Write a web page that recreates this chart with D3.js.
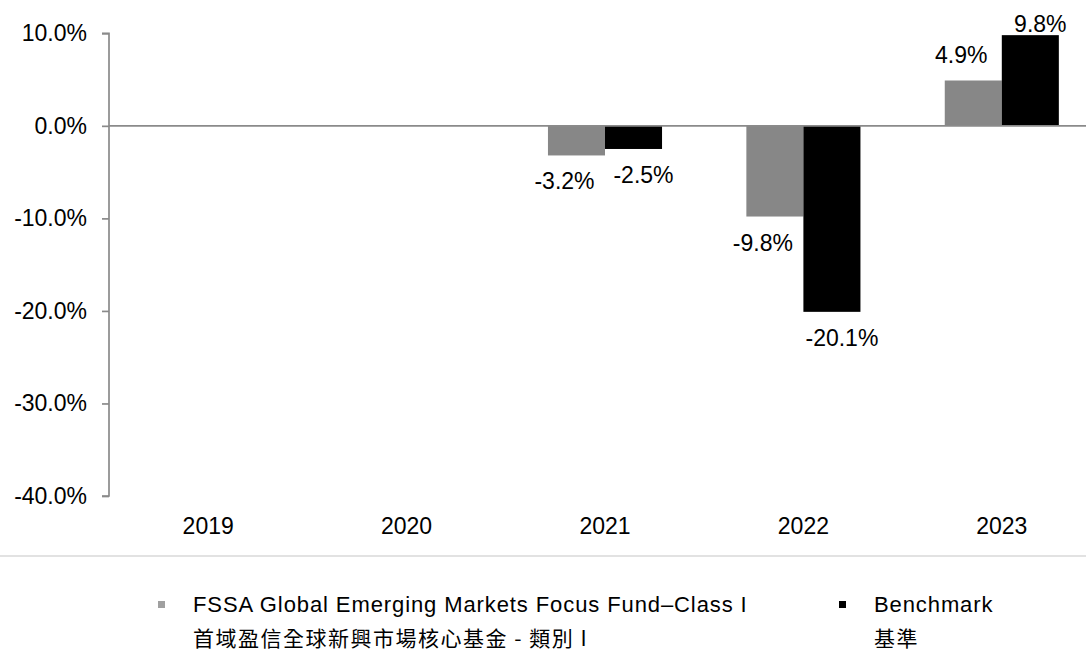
<!DOCTYPE html>
<html>
<head>
<meta charset="utf-8">
<script src="https://cdn.jsdelivr.net/npm/d3@7"></script>
<style>
  html, body { margin: 0; padding: 0; background: #fff; }
  svg { display: block; }
  text { font-family: "Liberation Sans", Arial, sans-serif; fill: #000; }
  .cjk { font-family: "Noto Sans CJK TC", "Noto Sans CJK SC", sans-serif; }
</style>
</head>
<body>
<svg id="chart" width="1086" height="651"></svg>
<script>
const years = ["2019", "2020", "2021", "2022", "2023"];
const fundValues = [null, null, -3.2, -9.8, 4.9];
const benchmarkValues = [null, null, -2.5, -20.1, 9.8];
const yTicks = [10, 0, -10, -20, -30, -40];
const seriesNames = ["fund", "benchmark"];
const legendEn = ["FSSA Global Emerging Markets Focus Fund\u2013Class I", "Benchmark"];
const legendZh = ["首域盈信全球新興市場核心基金 - 類別 I", "基準"];

const colors = { fund: "#878787", benchmark: "#000000" };
const legendColors = { fund: "#a0a0a0", benchmark: "#000000" };
const labelDx = { fund: -12, benchmark: 10 };

const svg = d3.select("#chart");
const W = 1086, H = 651;
const axisX = 109;

const x0 = d3.scaleBand().domain(years).range([axisX, 1101])
  .paddingInner(0.425).paddingOuter(0.2125);
const x1 = d3.scaleBand().domain(seriesNames).range([0, x0.bandwidth()]);
const y = d3.scaleLinear().domain([-40, 10]).range([496, 33.3]);

// y axis
const yAxis = d3.axisLeft(y).tickValues(yTicks).tickSize(7).tickPadding(15)
  .tickFormat(d => d.toFixed(1) + "%");
const gy = svg.append("g").attr("transform", `translate(${axisX},0)`).call(yAxis);
gy.select(".domain").attr("stroke", "#8a8a8a").attr("stroke-width", 1.7)
  .attr("d", `M-7,${y(10)}H0V${y(-40)}H-7`);
gy.selectAll(".tick line").attr("stroke", "#8a8a8a").attr("stroke-width", 1.7);
gy.selectAll(".tick text").attr("font-size", 23).attr("font-family", "Liberation Sans, Arial, sans-serif").attr("fill", "#000");

// data rows
const rows = years.map((yr, i) => ({
  year: yr,
  vals: [
    { key: "fund", v: fundValues[i] },
    { key: "benchmark", v: benchmarkValues[i] }
  ]
}));

const groups = svg.append("g").selectAll("g").data(rows).join("g")
  .attr("transform", d => `translate(${x0(d.year)},0)`);

groups.selectAll("rect").data(d => d.vals.filter(v => v.v !== null)).join("rect")
  .attr("x", d => x1(d.key))
  .attr("width", x1.bandwidth())
  .attr("y", d => y(Math.max(0, d.v)))
  .attr("height", d => Math.abs(y(d.v) - y(0)))
  .attr("fill", d => colors[d.key]);

groups.selectAll("text.lbl").data(d => d.vals.filter(v => v.v !== null)).join("text")
  .attr("class", "lbl")
  .attr("x", d => x1(d.key) + x1.bandwidth() / 2 + labelDx[d.key])
  .attr("y", d => d.v < 0 ? y(d.v) + 34 : Math.max(y(d.v) - 17, 32))
  .attr("text-anchor", "middle")
  .attr("font-size", 23)
  .text(d => d.v.toFixed(1) + "%");

// zero line
svg.append("line")
  .attr("x1", axisX).attr("x2", W)
  .attr("y1", y(0)).attr("y2", y(0))
  .attr("stroke", "#8a8a8a").attr("stroke-width", 1.7);

// x labels
svg.append("g").selectAll("text").data(years).join("text")
  .attr("x", d => x0(d) + x0.bandwidth() / 2)
  .attr("y", 534)
  .attr("text-anchor", "middle")
  .attr("font-size", 23)
  .text(d => d);

// separator
svg.append("line").attr("x1", 0).attr("x2", W).attr("y1", 556).attr("y2", 556)
  .attr("stroke", "#d9d9d9").attr("stroke-width", 1.5);

// legend
const legendX = [193, 874];
const leg = svg.append("g").selectAll("g").data(seriesNames).join("g")
  .attr("transform", (d, i) => `translate(${legendX[i]},0)`);
leg.append("rect").attr("x", -35).attr("y", 601).attr("width", 7).attr("height", 7)
  .attr("fill", d => legendColors[d]);
leg.append("text").attr("x", 0).attr("y", 612).attr("font-size", 22)
  .attr("letter-spacing", 0.9)
  .text((d, i) => legendEn[i]);
leg.append("text").attr("class", "cjk").attr("x", 0).attr("y", 646).attr("font-size", 21)
  .attr("letter-spacing", 1.5)
  .text((d, i) => legendZh[i]);
</script>
</body>
</html>
